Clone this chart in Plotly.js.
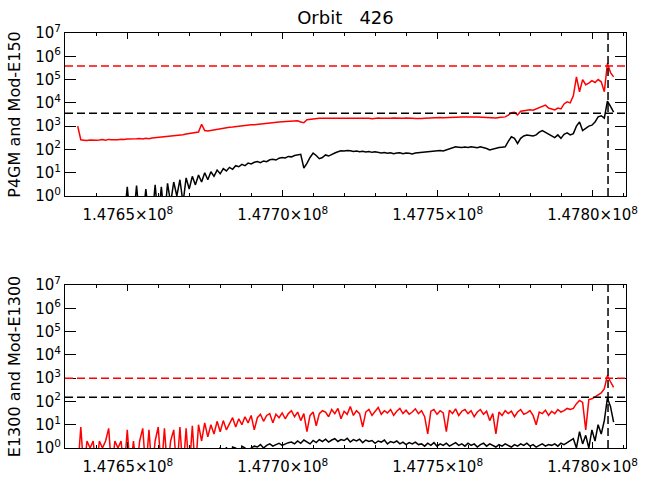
<!DOCTYPE html>
<html>
<head>
<meta charset="utf-8">
<script src="https://cdn.plot.ly/plotly-3.0.1.min.js"></script>
<style>
  html, body { margin: 0; padding: 0; background: #fff; }
  #chart { width: 648px; height: 480px; }
</style>
</head>
<body>
<div id="chart"></div>
<script>
// sample times: one point every 1000 s from the first sample
const t0 = 147633800;
const dt = 1000;

// top panel: P4GM (black) and Mod-E150 (red); 0.1 = no counts (below axis)
const p4gm = [
  0.1, 0.1, 0.1, 0.1, 0.1, 0.1, 0.1, 0.1, 0.1, 0.1,
  0.1, 0.1, 0.1, 0.1, 0.1, 0.1, 2.5, 0.1, 0.1, 2.8,
  0.1, 0.1, 2, 0.1, 0.1, 3, 0.1, 2.5, 0.1, 3.5,
  0.5, 4, 1, 5, 0.5, 6, 2, 7, 3, 8,
  4, 10, 5, 11, 7, 13, 9, 15, 12, 17,
  14, 20, 18, 23, 20, 26, 24, 28, 30, 27,
  32, 30, 36, 38, 35, 42, 45, 43, 50, 48,
  55, 58, 62, 16, 25, 45, 70, 55, 40, 45,
  58, 52, 62, 70, 80, 88, 85, 90, 88, 82,
  86, 80, 84, 78, 82, 75, 80, 76, 70, 74,
  68, 72, 66, 70, 72, 65, 70, 68, 64, 70,
  72, 75, 80, 78, 85, 82, 88, 90, 86, 95,
  110, 120, 130, 125, 120, 128, 122, 130, 125, 118,
  130, 122, 110, 95, 105, 110, 120, 125, 130, 220,
  350, 300, 180, 300, 380, 420, 400, 380, 420, 550,
  650, 550, 450, 380, 320, 420, 300, 450, 520, 420,
  480, 1000, 1500, 650, 800, 1000, 1100, 1500, 2500, 2800,
  2200, 12000, 7000, 4000
];
const modE150 = [
  1000, 260, 250, 240, 255, 245, 250, 255, 265, 250,
  270, 260, 258, 262, 275, 265, 280, 275, 290, 285,
  295, 280, 300, 290, 310, 320, 315, 335, 340, 350,
  370, 390, 400, 420, 430, 460, 480, 500, 520, 560,
  1200, 650, 620, 660, 700, 720, 760, 800, 850, 900,
  920, 960, 1000, 1050, 1080, 1100, 1150, 1150, 1200, 1250,
  1300, 1350, 1400, 1450, 1480, 1520, 1560, 1600, 1650, 1700,
  1750, 1700, 1500, 1400, 1900, 2000, 2100, 2150, 2200, 2200,
  2200, 2250, 2150, 2300, 2200, 2250, 2200, 2150, 2250, 2200,
  2300, 2250, 2200, 2150, 2200, 2100, 2200, 2250, 2200, 2150,
  2100, 2200, 2250, 2200, 2150, 2200, 2250, 2300, 2200, 2150,
  2100, 2150, 2200, 2250, 2300, 2250, 2300, 2350, 2300, 2350,
  2400, 2400, 2450, 2400, 2500, 2450, 2500, 2550, 2500, 2450,
  2400, 2350, 2300, 2250, 2300, 2250, 2350, 2400, 2500, 3000,
  3800, 3900, 3000, 4400, 4600, 4900, 5000, 4800, 5500, 6500,
  7000, 8000, 6000, 5500, 5000, 6000, 5500, 9000, 11000, 10000,
  20000, 130000, 30000, 100000, 60000, 70000, 90000, 75000, 100000, 80000,
  30000, 500000, 200000, 130000
];

// bottom panel: E1300 (black) and Mod-E1300 (red)
const e1300 = [
  0.1, 0.1, 0.1, 0.1, 0.1, 0.1, 0.1, 0.1, 0.1, 0.1,
  0.1, 0.1, 0.1, 0.1, 0.1, 0.1, 0.1, 0.1, 0.1, 0.1,
  0.1, 0.1, 0.1, 0.1, 0.1, 0.1, 0.1, 0.1, 0.1, 0.1,
  0.1, 0.1, 0.1, 0.1, 0.1, 0.1, 0.1, 0.1, 0.1, 0.1,
  0.1, 0.1, 0.1, 0.1, 0.1, 0.1, 1.1, 0.1, 1.1, 0.1,
  1.1, 1, 0.1, 1.2, 1, 0.1, 1, 1.2, 1.1, 1.4,
  1, 1.3, 1.5, 1.2, 1.4, 1.6, 1.3, 1.5, 1.7, 1.8,
  1.5, 2.0, 1.6, 2.2, 1.8, 1.5, 2.1, 1.7, 2.3, 1.9,
  2.4, 1.8, 2.2, 2.5, 1.9, 2.3, 2.1, 2.6, 1.8, 2.3,
  2.0, 2.4, 1.7, 2.2, 1.9, 2.1, 1.6, 2.0, 1.8, 2.2,
  1.5, 1.9, 1.7, 2.0, 1.5, 1.8, 1.4, 1.7, 1.5, 1.8,
  1.4, 1.5, 1.2, 1.6, 1.3, 1.7, 1.2, 1.5, 1.3, 1.6,
  1.2, 1.4, 1.7, 1.3, 1.5, 1.2, 1.6, 1.3, 1.5, 1.1,
  1.4, 1.6, 1.2, 1.5, 1.3, 1.1, 1.4, 1.2, 1.5, 1.3,
  1.1, 1.4, 1.2, 1.5, 1.3, 1.6, 1.2, 1.4, 1.1, 1.3,
  1.5, 1.2, 1.4, 1.3, 1.5, 1.2, 1.6, 1.4, 1.7, 2,
  2.5, 1, 5, 1.5, 3.5, 1, 6, 2, 10, 4,
  15, 140, 60, 13
];
const modE1300 = [
  0.1, 8, 0.1, 2, 1, 2, 0.1, 2, 1, 2,
  7, 0.1, 2, 1, 2, 0.1, 6, 0.1, 2, 0.1,
  2, 7, 0.1, 6, 0.1, 2, 8, 0.1, 7, 0.1,
  2, 6, 0.1, 8, 0.1, 7, 0.1, 9, 0.1, 10,
  2, 12, 3, 10, 4, 14, 5, 15, 6, 12,
  20, 8, 18, 10, 22, 12, 25, 6, 20, 28,
  14, 25, 30, 12, 28, 20, 32, 18, 30, 40,
  22, 35, 15, 30, 5, 25, 35, 9, 30, 40,
  35, 22, 45, 30, 50, 18, 38, 28, 60, 25,
  40, 30, 8, 35, 45, 25, 38, 55, 28, 40,
  32, 45, 25, 38, 50, 30, 42, 28, 35, 48,
  30, 40, 22, 4, 38, 45, 28, 40, 32, 5,
  42, 30, 48, 25, 38, 45, 30, 40, 22, 35,
  45, 28, 38, 15, 30, 4, 35, 25, 40, 30,
  38, 22, 35, 45, 28, 32, 40, 25, 10, 35,
  30, 42, 25, 38, 30, 45, 35, 40, 50, 45,
  50, 80, 110, 90, 6, 120, 130, 160, 200, 230,
  350, 1300, 700, 400
];

// dashed reference levels [black, red] and the marked time
const topLevels = [3600, 380000];
const bottomLevels = [150, 1000];
const markTime = 147805000;

const xRange = [147629700, 147810800];
const xTickVals = [147650000, 147700000, 147750000, 147800000];
const xTickText = ["1.4765\u00d710<sup>8</sup>", "1.4770\u00d710<sup>8</sup>",
                   "1.4775\u00d710<sup>8</sup>", "1.4780\u00d710<sup>8</sup>"];
const yTickVals = [1, 10, 100, 1e3, 1e4, 1e5, 1e6, 1e7];
const yTickText = ["10<sup>0</sup>", "10<sup>1</sup>", "10<sup>2</sup>", "10<sup>3</sup>",
                   "10<sup>4</sup>", "10<sup>5</sup>", "10<sup>6</sup>", "10<sup>7</sup>"];

const times = p4gm.map((_, i) => t0 + i * dt);

const font = { family: "DejaVu Sans", size: 15, color: "#000" };

function trace(y, color, xa, ya) {
  return { x: times, y: y, type: "scatter", mode: "lines", xaxis: xa, yaxis: ya,
           line: { color: color, width: 1.5 }, hoverinfo: "skip" };
}

const data = [
  trace(p4gm, "#000000", "x", "y"),
  trace(modE150, "#ff0000", "x", "y"),
  trace(e1300, "#000000", "x2", "y2"),
  trace(modE1300, "#ff0000", "x2", "y2")
];

function xAxis(ya) {
  return {
    anchor: ya, range: xRange, tickmode: "array", tickvals: xTickVals, ticktext: xTickText,
    ticks: "inside", ticklen: 6, tickcolor: "#000", showline: true, linecolor: "#000",
    linewidth: 1, mirror: "ticks", showgrid: false, zeroline: false, tickfont: font,
    ticklabelstandoff: 5,
    minor: { tickmode: "linear", tick0: xTickVals[0], dtick: 10000, ticks: "inside",
             ticklen: 3, tickcolor: "#000", showgrid: false }
  };
}

function yAxis(xa, domain, title) {
  return {
    anchor: xa, domain: domain, type: "log", range: [0, 7],
    tickmode: "array", tickvals: yTickVals, ticktext: yTickText,
    ticks: "inside", ticklen: 11, tickcolor: "#000", showline: true, linecolor: "#000",
    linewidth: 1, mirror: "ticks", showgrid: false, zeroline: false, tickfont: font,
    title: { text: title, font: { family: "DejaVu Sans", size: 16, color: "#000" }, standoff: 10 }
  };
}

function hLine(xa, ya, level, color) {
  return { type: "line", xref: xa + " domain", yref: ya, x0: 0, x1: 1,
           y0: level, y1: level,
           line: { color: color, width: 1.5, dash: "8px,4px" } };
}

function vLine(xa, ya) {
  return { type: "line", xref: xa, yref: ya + " domain", x0: markTime, x1: markTime,
           y0: 0, y1: 1, line: { color: "#000", width: 1.5, dash: "8px,4px" } };
}

const layout = {
  width: 648, height: 480,
  margin: { l: 65, r: 22, t: 33, b: 32 },
  paper_bgcolor: "#fff", plot_bgcolor: "#fff",
  showlegend: false,
  title: { text: "Orbit\u00a0\u00a0\u00a0426", font: { family: "DejaVu Sans", size: 18, color: "#000" },
           x: 0.5, xref: "paper", y: 1 - 18 / 480, yref: "container", yanchor: "middle" },
  xaxis: xAxis("y"),
  yaxis: yAxis("x", [0.6072, 1], "P4GM and Mod-E150"),
  xaxis2: xAxis("y2"),
  yaxis2: yAxis("x2", [0, 0.3928], "E1300 and Mod-E1300"),
  shapes: [
    hLine("x", "y", topLevels[0], "#000"),
    hLine("x", "y", topLevels[1], "#ff0000"),
    hLine("x2", "y2", bottomLevels[0], "#000"),
    hLine("x2", "y2", bottomLevels[1], "#ff0000"),
    vLine("x", "y"),
    vLine("x2", "y2")
  ]
};

Plotly.newPlot("chart", data, layout, { staticPlot: true });
</script>
</body>
</html>
